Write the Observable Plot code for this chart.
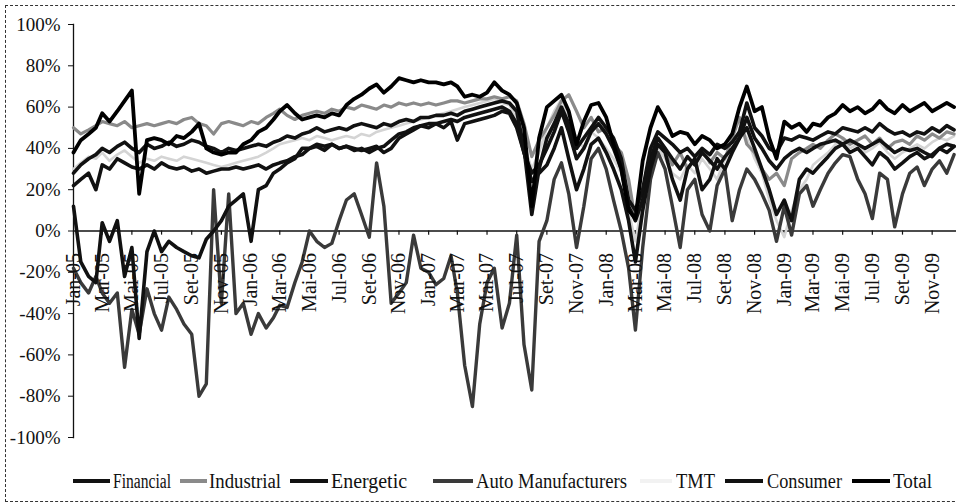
<!DOCTYPE html>
<html><head><meta charset="utf-8">
<script src="https://cdn.jsdelivr.net/npm/d3@7"></script>
<script src="https://cdn.jsdelivr.net/npm/@observablehq/plot@0.6"></script>
<style>
body{margin:0;background:#fff;}
#wrap{position:relative;width:956px;height:504px;font-family:"Liberation Serif","Times New Roman",serif;color:#111;overflow:hidden;background:#fff}
#border{position:absolute;left:5px;top:5px;width:980px;height:497px;border:1px dashed #333;box-sizing:border-box;pointer-events:none}
#chart{position:absolute;left:0;top:0}
#legend{position:absolute;left:0;top:462px;width:956px;height:42px}
.sw{position:absolute;height:4px;top:17px}
.lt{position:absolute;top:6px;font-size:20px;line-height:26px;white-space:nowrap;transform-origin:0 50%}
</style></head>
<body>
<div id="wrap"><div id="chart"></div><div id="legend"></div><div id="border"></div></div>
<script>
// ---- data (semi-monthly readings, Jan-2005 .. Dec-2009) ----
const seriesNames = ["Financial","Industrial","Energetic","Auto Manufacturers","TMT","Consumer","Total"];
const tickLabels = ["Jan-05","Mar-05","Mai-05","Jul-05","Set-05","Nov-05","Jan-06","Mar-06","Mai-06","Jul-06","Set-06","Nov-06","Jan-07","Mar-07","Mai-07","Jul-07","Set-07","Nov-07","Jan-08","Mar-08","Mai-08","Jul-08","Set-08","Nov-08","Jan-09","Mar-09","Mai-09","Jul-09","Set-09","Nov-09"];
const yTicks = [100,80,60,40,20,0,-20,-40,-60,-80,-100];

const financial = [12,-15,-22,-25,4,-5,5,-22,-8,-52,-10,0,
 -10,-5,-8,-10,-12,-13,-4,0,5,12,15,18,
 -5,20,22,28,30,33,35,40,40,42,41,42,
 40,41,40,39,40,41,38,40,45,47,49,51,
 52,52,50,53,44,52,53,54,55,56,58,57,
 50,38,24,28,32,40,50,35,20,30,42,45,
 38,30,20,5,-15,10,30,42,38,25,15,30,
 35,20,25,35,30,38,45,50,40,30,20,8,
 15,5,25,30,28,32,36,40,42,38,40,36,
 32,38,35,30,33,36,38,35,37,40,38,41];
const industrial = [50,47,49,51,53,52,51,53,50,51,52,51,
 52,53,52,54,55,52,51,47,52,53,52,51,
 53,52,55,57,59,56,54,56,57,58,57,59,
 58,60,59,61,60,59,61,60,62,61,62,61,
 62,61,62,63,63,62,63,64,64,65,64,65,
 63,52,36,44,50,56,63,66,58,50,55,48,
 50,42,38,25,5,20,38,45,40,32,38,30,
 35,40,33,38,35,45,55,42,38,30,25,28,
 22,35,38,40,42,40,44,47,45,42,44,46,
 42,45,40,43,44,42,46,44,47,45,48,47];
const energetic = [22,25,28,20,32,30,35,33,31,30,32,30,
 33,31,30,31,29,30,28,29,30,30,31,30,
 31,32,30,32,33,34,36,37,40,41,39,42,
 40,41,39,40,38,40,41,44,47,48,50,51,
 50,52,53,54,53,55,56,57,58,59,60,58,
 52,38,28,32,40,48,58,48,35,40,48,52,
 47,40,30,12,5,15,35,45,40,35,30,36,
 32,38,34,30,36,40,45,55,45,40,34,30,
 35,38,40,38,40,42,43,44,42,44,42,40,
 42,44,41,38,40,39,40,38,36,40,42,41];
const auto = [-18,-25,-30,-22,-30,-35,-30,-66,-38,-50,-28,-40,
 -48,-32,-38,-45,-50,-80,-74,20,-35,18,-40,-35,
 -50,-40,-47,-42,-36,-37,-25,-15,0,-5,-8,-6,
 5,15,18,8,-3,33,12,-35,-30,-25,-2,-18,
 -20,-26,-23,-12,-30,-65,-85,-45,-25,-18,-47,-35,
 -2,-55,-77,-5,5,25,33,18,-8,12,35,40,
 30,15,0,-18,-48,-8,25,38,30,12,-8,20,
 25,8,0,22,30,5,20,30,25,18,10,-5,
 12,-2,18,22,12,20,28,33,37,36,25,18,
 6,28,25,2,18,28,31,22,30,34,28,37];
const tmt = [30,33,36,35,38,34,37,39,36,33,35,34,
 36,35,34,36,35,34,33,32,31,32,33,34,
 35,36,38,40,42,43,44,45,44,46,45,44,
 45,46,45,47,46,48,49,50,51,52,53,54,
 55,56,57,58,59,60,61,62,63,64,62,61,
 55,42,30,38,50,58,64,55,45,40,48,45,
 40,35,28,10,-5,15,30,40,35,28,25,32,
 28,35,30,25,35,38,50,45,35,28,15,5,
 -3,10,20,25,32,35,38,42,44,40,42,38,
 40,43,38,35,38,40,42,40,43,45,44,46];
const consumer = [28,32,35,37,40,38,41,43,40,38,42,40,
 41,43,41,42,44,43,41,40,38,40,39,40,
 41,42,41,43,44,46,45,47,48,50,48,49,
 50,49,51,52,51,50,52,51,53,54,53,55,
 55,56,56,57,56,58,59,60,61,62,63,62,
 58,40,8,30,45,52,60,52,40,45,50,55,
 50,45,35,15,10,20,40,48,45,42,38,40,
 36,40,37,42,40,43,48,62,50,46,40,38,
 45,44,46,45,44,46,48,47,50,49,48,50,
 48,52,49,47,48,46,48,47,50,48,51,49];
const total = [38,44,47,50,57,53,58,63,68,18,44,45,
 44,42,46,45,48,52,40,38,37,38,38,42,
 44,48,50,54,58,61,57,54,55,56,55,57,
 56,61,64,66,69,71,67,70,74,73,72,73,
 72,72,71,72,70,65,66,65,67,72,68,66,
 62,50,12,45,60,63,66,58,42,53,61,62,
 55,42,30,10,6,34,50,60,54,46,48,47,
 42,46,44,40,42,47,60,70,58,60,45,35,
 53,50,52,48,52,51,55,57,61,58,60,57,
 59,63,59,57,61,58,60,62,58,60,62,60];

// ---- build ----
const dates = d3.range(120).map(i => new Date(Date.UTC(2005, Math.floor(i / 2), i % 2 ? 16 : 1)));
const monthIdx = {Jan:0, Mar:2, Mai:4, Jul:6, Set:8, Nov:10};
const tickDates = tickLabels.map(s => new Date(Date.UTC(2000 + +s.slice(4), monthIdx[s.slice(0,3)], 1)));

const valuesByName = {"Financial": financial, "Industrial": industrial, "Energetic": energetic,
  "Auto Manufacturers": auto, "TMT": tmt, "Consumer": consumer, "Total": total};
const styleByName = {
  "TMT": {stroke: "#d4d4d4", w: 2.6},
  "Industrial": {stroke: "#8a8a8a", w: 3.2},
  "Auto Manufacturers": {stroke: "#3a3a3a", w: 3.4},
  "Financial": {stroke: "#111", w: 3.6},
  "Energetic": {stroke: "#111", w: 3.6},
  "Consumer": {stroke: "#111", w: 3.6},
  "Total": {stroke: "#000", w: 3.8}
};
const drawOrder = ["TMT","Industrial","Auto Manufacturers","Financial","Energetic","Consumer","Total"];
const lines = drawOrder.map(n => Plot.line(valuesByName[n], {
  x: dates, y: d => d, stroke: styleByName[n].stroke, strokeWidth: styleByName[n].w,
  strokeLinejoin: "round", strokeLinecap: "round"
}));

const chart = Plot.plot({
  width: 956, height: 462,
  marginTop: 24, marginBottom: 25, marginLeft: 73, marginRight: 0,
  style: {fontFamily: "Liberation Serif, Times New Roman, serif", fontSize: "19px", color: "#111", background: "transparent", overflow: "visible"},
  x: {type: "utc", domain: [new Date(Date.UTC(2005,0,1)), new Date(Date.UTC(2009,11,21))], axis: null},
  y: {domain: [-100, 100], ticks: yTicks, tickFormat: d => d + "%", tickSize: 5, tickPadding: 8, label: null},
  marks: [
    Plot.frame({anchor: "left", stroke: "#111", strokeWidth: 1.3}),
    Plot.ruleY([0], {stroke: "#111", strokeWidth: 1.6}),
    Plot.ruleX(tickDates, {x: d => d, y1: () => 0, y2: () => -2, stroke: "#111", strokeWidth: 1.2}),
    ...lines,
    Plot.text(tickLabels, {x: tickDates, y: tickLabels.map(() => 0), text: d => d, rotate: -90,
      textAnchor: "end", dy: 22, fontSize: 20, fill: "#111"})
  ]
});
document.getElementById("chart").appendChild(chart);

// ---- legend ----
const legendPos = {
  "Financial": [73, 110, 113, 58], "Industrial": [180, 207, 209, 72], "Energetic": [290, 328, 331, 76],
  "Auto Manufacturers": [433, 473, 476, 151], "TMT": [640, 672, 676, 39], "Consumer": [725, 763, 767, 75], "Total": [852, 890, 893, 39]
};
const swColor = {"Financial":"#111","Industrial":"#8a8a8a","Energetic":"#111","Auto Manufacturers":"#3a3a3a","TMT":"#f2f2f2","Consumer":"#111","Total":"#000"};
const leg = document.getElementById("legend");
seriesNames.forEach(n => {
  const [a, b, t, target] = legendPos[n];
  const sw = document.createElement("div");
  sw.className = "sw"; sw.style.left = a + "px"; sw.style.width = (b - a) + "px"; sw.style.background = swColor[n];
  const lt = document.createElement("div");
  lt.className = "lt"; lt.style.left = t + "px"; lt.textContent = n;
  leg.appendChild(sw); leg.appendChild(lt);
  const w = lt.getBoundingClientRect().width;
  if (w > 0) lt.style.transform = `scaleX(${(target / w).toFixed(3)})`;
});
</script>
</body></html>
